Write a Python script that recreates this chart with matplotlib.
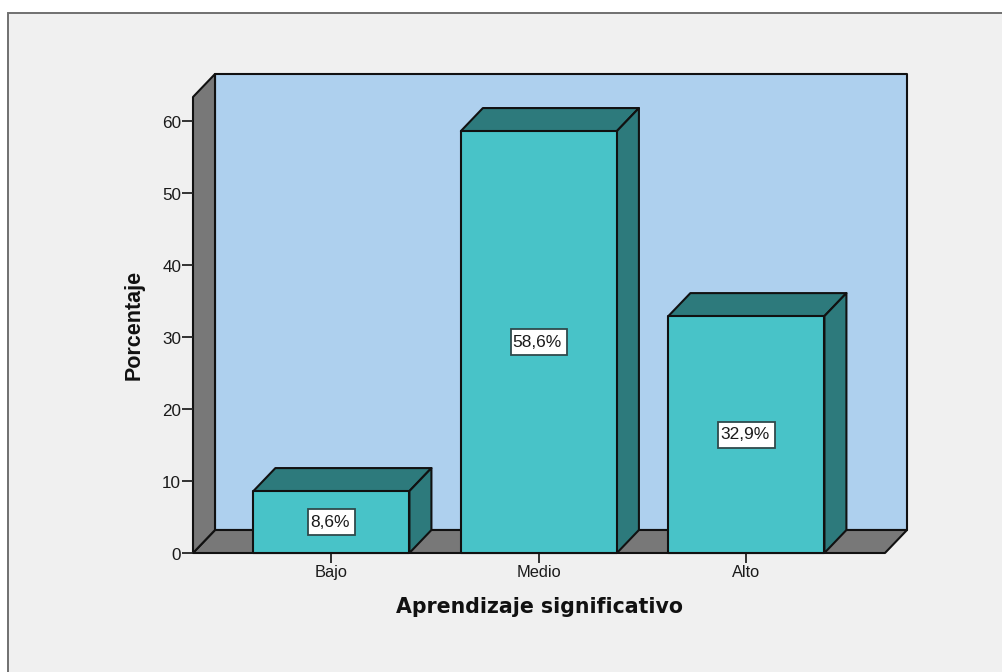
import matplotlib
matplotlib.use('Agg')
from matplotlib import pyplot as plt
from matplotlib.patches import Polygon, Rectangle
from matplotlib.transforms import Affine2D

categories = ['Bajo', 'Medio', 'Alto']
percentages = [8.6, 58.6, 32.9]
bar_labels = ['8,6%', '58,6%', '32,9%']
y_ticks = [0, 10, 20, 30, 40, 50, 60]

W, H = 1003, 672
plt.rcParams['font.family'] = ['Liberation Sans', 'DejaVu Sans']

fig = plt.figure(figsize=(W / 100, H / 100), dpi=100, facecolor='white')

# outer grey panel, runs off the right and bottom edge so only two borders show
fig.patches.append(Rectangle((8 / W, -0.05), 1.1, 1.05 - 13 / H, transform=fig.transFigure,
                             facecolor='#f0f0f0', edgecolor='#707070', linewidth=1.4, zorder=-1))

# axes is the front plane of the 3d box
ax = fig.add_axes([193 / W, 1 - 553 / H, 692 / W, 456 / H])
ax.set_xlim(-0.667, 2.668)
ax.set_ylim(0, 63.33)
ax.patch.set_visible(False)
for s in ax.spines.values():
    s.set_visible(False)

# depth of the box in data units
dx = 22 / 207.5
dy = 23 / 7.2
x0, x1 = ax.get_xlim()
y0, y1 = ax.get_ylim()
bar_width = 0.752
px_x = 1 / 207.5
px_y = 1 / 7.2


def poly(points, color, z=1):
    ax.add_patch(Polygon(points, closed=True, facecolor=color, edgecolor='#111111',
                         linewidth=1.5, clip_on=False, zorder=z, joinstyle='round'))


# back wall, floor, left wall
poly([(x0 + dx, y0 + dy), (x1 + dx, y0 + dy), (x1 + dx, y1 + dy), (x0 + dx, y1 + dy)], '#aed0ee')
poly([(x0, y0), (x1, y0), (x1 + dx, y0 + dy), (x0 + dx, y0 + dy)], '#787878')
poly([(x0, y0), (x0 + dx, y0 + dy), (x0 + dx, y1 + dy), (x0, y1)], '#787878')

renderer = fig.canvas.get_renderer()
for i, val in enumerate(percentages):
    l = i - bar_width / 2
    r = i + bar_width / 2
    poly([(l, val), (r, val), (r + dx, val + dy), (l + dx, val + dy)], '#2d7a7c', 3)
    poly([(r, 0), (r + dx, dy), (r + dx, val + dy), (r, val)], '#2d7a7c', 3)
    poly([(l, 0), (r, 0), (r, val), (l, val)], '#48c3c8', 4)
    t = ax.text(i - 1.5 * px_x, val / 2, bar_labels[i], ha='center', va='center', fontsize=12.5,
                color='#1a1a1a', zorder=6)
    # label box is text width + a few px, fixed height
    box_w = (t.get_window_extent(renderer).width + 7) * px_x
    box_h = 26 * px_y
    ax.add_patch(Rectangle((i - box_w / 2, val / 2 - box_h / 2), box_w, box_h, facecolor='white',
                           edgecolor='#2f4a4c', linewidth=1.3, zorder=5))

ax.set_xticks(range(len(categories)))
ax.set_xticklabels(categories)
ax.set_yticks(y_ticks)
ax.tick_params(axis='x', length=7, width=1.3, labelsize=11.8, pad=1.5, color='#222222', labelcolor='#1a1a1a')
ax.tick_params(axis='y', length=8, width=1.3, labelsize=12.3, pad=0.5, color='#222222', labelcolor='#1a1a1a')

# y labels sit a bit lower than their tick
for lab in ax.get_yticklabels():
    lab.set_transform(lab.get_transform() + Affine2D().translate(0, -1.5))

fig.text(539 / W, 1 - 607 / H, 'Aprendizaje significativo', ha='center', va='center',
         fontsize=14.8, fontweight='bold', family=['DejaVu Sans'], color='#111111')
fig.text(134 / W, 1 - 325 / H, 'Porcentaje', ha='center', va='center', rotation=90,
         fontsize=15.5, fontweight='bold', family=['Liberation Sans'], color='#111111')

fig.savefig('out.png', dpi=100, facecolor='white')
